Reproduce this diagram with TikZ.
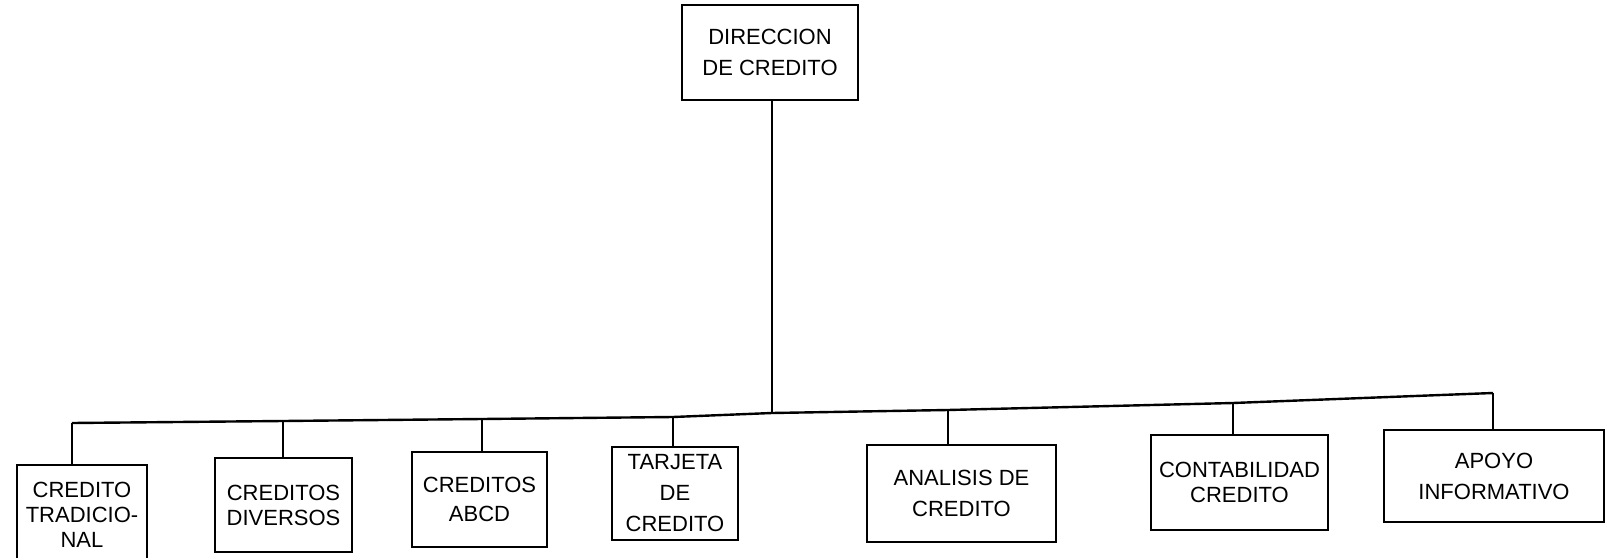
\documentclass[tikz,border=0pt]{standalone}
\usepackage{fontspec}
\setmainfont{Liberation Sans}
\usetikzlibrary{positioning}

\begin{document}
\begin{tikzpicture}[x=0.5pt,y=-0.5pt,
				font=\fontsize{11}{12.5}\selectfont,
				unitbox/.style={rectangle,draw,line width=1.1pt,inner sep=1pt,align=center},
				headbox/.style={unitbox,minimum width=88pt,minimum height=47.5pt},
				link/.style={line width=1.2pt}]
				\useasboundingbox (0,0) rectangle (1606,557);

				\node (dir) [headbox] at (770,52.5) {DIRECCION\\[3pt]DE CREDITO};

				\node (trad) [unitbox,minimum width=65pt,minimum height=50pt] at (82,515) {CREDITO\\TRADICIO-\\NAL};
				\node (div) [unitbox,right of=trad,node distance=100.75pt,yshift=5pt,minimum width=68.5pt,minimum height=47pt] {CREDITOS\\DIVERSOS};
				\node (abcd) [unitbox,right of=div,node distance=98pt,yshift=2.75pt,minimum width=67.5pt,minimum height=47.5pt] {CREDITOS\\[2pt]ABCD};
				\node (tarj) [unitbox,right of=abcd,node distance=97.75pt,yshift=3pt,minimum width=63pt,minimum height=46.5pt] {TARJETA\\[3pt]DE\\[3pt]CREDITO};
				\node (anal) [unitbox,right of=tarj,node distance=143.25pt,minimum width=94.5pt,minimum height=48.5pt] {ANALISIS DE\\[3pt]CREDITO};
				\node (cont) [unitbox,right of=anal,node distance=139pt,yshift=5.5pt,minimum width=88.5pt,minimum height=47.5pt] {CONTABILIDAD\\CREDITO};
				\node (apoyo) [unitbox,right of=cont,node distance=127.25pt,yshift=3.25pt,minimum width=110pt,minimum height=46pt] {APOYO\\[3pt]INFORMATIVO};

				\coordinate (j1) at (72,423);
				\coordinate (j2) at (283,421);
				\coordinate (j3) at (482,419);
				\coordinate (j4) at (673,417);
				\coordinate (jt) at (772,413);
				\coordinate (j5) at (948,410);
				\coordinate (j6) at (1233,403);
				\coordinate (j7) at (1493,393);

				\draw [link] (jt |- dir.south)--(jt);
				\draw [link] (j1)--(j2)--(j3)--(j4)--(jt)--(j5)--(j6)--(j7);
				\draw [link] (j1)--(j1 |- trad.north);
				\draw [link] (j2)--(j2 |- div.north);
				\draw [link] (j3)--(j3 |- abcd.north);
				\draw [link] (j4)--(j4 |- tarj.north);
				\draw [link] (j5)--(j5 |- anal.north);
				\draw [link] (j6)--(j6 |- cont.north);
				\draw [link] (j7)--(j7 |- apoyo.north);
			\end{tikzpicture}
\end{document}
